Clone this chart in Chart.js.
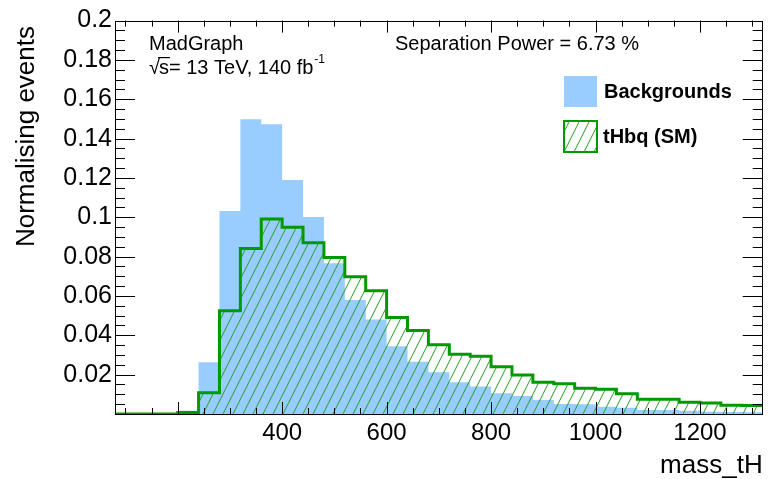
<!DOCTYPE html>
<html>
<head>
<meta charset="utf-8">
<script src="https://cdn.jsdelivr.net/npm/chart.js@4/dist/chart.umd.min.js"></script>
<style>
  html, body { margin: 0; padding: 0; background: #ffffff; }
  #wrap { width: 769px; height: 479px; position: relative; }
</style>
</head>
<body>
<div id="wrap"><canvas id="c" width="769" height="479"></canvas></div>
<script>
// Histogram bin edges in mass_tH (GeV), 40 GeV wide bins
const binEdges = [80, 120, 160, 200, 240, 280, 320, 360, 400, 440, 480, 520, 560, 600, 640, 680,
                  720, 760, 800, 840, 880, 920, 960, 1000, 1040, 1080, 1120, 1160, 1200, 1240, 1280, 1320];

// Normalised bin contents
const backgrounds = [0, 0, 0, 0.0017, 0.0263, 0.1032, 0.1498, 0.1473, 0.1190, 0.1002, 0.0766, 0.0580,
                     0.0481, 0.0344, 0.0265, 0.0212, 0.0162, 0.0140, 0.0105, 0.0092, 0.0071, 0.0051,
                     0.0049, 0.0037, 0.0032, 0.0020, 0.0020, 0.0017, 0.0012, 0.0010, 0.0009];
const signal = [0, 0, 0, 0.0007, 0.0108, 0.0525, 0.0842, 0.0991, 0.0949, 0.0871, 0.0795, 0.0698,
                0.0627, 0.0490, 0.0425, 0.0352, 0.0304, 0.0294, 0.0240, 0.0198, 0.0161, 0.0154,
                0.0131, 0.0126, 0.0103, 0.0075, 0.0075, 0.0060, 0.0056, 0.0044, 0.0043];

// Axis tick labels
const xTickLabels = [400, 600, 800, 1000, 1200];
const yTickLabels = [0.02, 0.04, 0.06, 0.08, 0.1, 0.12, 0.14, 0.16, 0.18, 0.2];

// Legend entries and annotation text
const seriesNames = ['Backgrounds', 'tHbq (SM)'];
const xTitle = 'mass_tH';
const yTitle = 'Normalising events';
const separationText = 'Separation Power = 6.73 %';

const FONT = '"Liberation Sans", Arial, Helvetica, sans-serif';
const BLUE = '#99ccff';
const GREEN = '#009a00';
const HATCH_GREEN = '#22a022';

// Turn bin contents into step points: one point per left edge plus the final right edge
function toSteps(values) {
  const pts = values.map((v, i) => ({ x: binEdges[i], y: v }));
  pts.push({ x: binEdges[values.length], y: values[values.length - 1] });
  return pts;
}

const canvas = document.getElementById('c');
const ctx0 = canvas.getContext('2d');

// Diagonal "/" hatch used for the signal histogram
function makeHatch() {
  const W = 10, H = 20;
  const tile = document.createElement('canvas');
  tile.width = W; tile.height = H;
  const g = tile.getContext('2d');
  g.strokeStyle = HATCH_GREEN;
  g.lineWidth = 1;
  for (let k = -1; k <= 1; k++) {
    g.beginPath();
    g.moveTo(k * W, H);
    g.lineTo(k * W + W, 0);
    g.stroke();
  }
  return ctx0.createPattern(tile, 'repeat');
}
const hatch = makeHatch();

// Frame, inward ticks on all four sides, titles, labels and legend
const rootStyle = {
  id: 'rootStyle',
  afterDatasetsDraw(chart) {
    const { ctx, chartArea: a, scales: { x, y } } = chart;
    ctx.save();
    ctx.strokeStyle = '#000';
    ctx.lineWidth = 1;
    ctx.beginPath();
    // x ticks every 50, major every 200
    for (let v = 100; v <= 1300; v += 50) {
      const px = Math.round(x.getPixelForValue(v)) + 0.5;
      const len = (v % 200 === 0) ? 12 : 6;
      ctx.moveTo(px, a.bottom); ctx.lineTo(px, a.bottom - len);
      ctx.moveTo(px, a.top); ctx.lineTo(px, a.top + len);
    }
    // y ticks every 0.005, major every 0.02
    for (let k = 0; k <= 40; k++) {
      const py = Math.round(y.getPixelForValue(k * 0.005)) + 0.5;
      const len = (k % 4 === 0) ? 20 : 10;
      ctx.moveTo(a.left, py); ctx.lineTo(a.left + len, py);
      ctx.moveTo(a.right, py); ctx.lineTo(a.right - len, py);
    }
    ctx.stroke();
    ctx.strokeRect(Math.round(a.left) + 0.5, Math.round(a.top) + 0.5,
                   Math.round(a.right - a.left) - 1, Math.round(a.bottom - a.top));
    ctx.restore();
  },
  afterDraw(chart) {
    const { ctx, chartArea: a } = chart;
    ctx.save();
    ctx.fillStyle = '#000';

    // axis titles
    ctx.font = '26px ' + FONT;
    ctx.textAlign = 'right';
    ctx.textBaseline = 'alphabetic';
    ctx.fillText(xTitle, a.right, 473);
    ctx.save();
    ctx.translate(34, 26);
    ctx.rotate(-Math.PI / 2);
    ctx.fillText(yTitle, 0, 0);
    ctx.restore();

    // generator and beam labels
    ctx.textAlign = 'left';
    ctx.font = '20px ' + FONT;
    ctx.fillText('MadGraph', 149, 50);
    ctx.fillText(separationText, 395, 50);
    // sqrt(s) line: radical sign with a bar over the s, then the luminosity with superscript
    let xp = 149;
    const base = 74;
    ctx.fillText('\u221A', xp, base);
    const rw = ctx.measureText('\u221A').width;
    const sw = ctx.measureText('s').width;
    ctx.fillText('s', xp + rw - 1, base);
    ctx.fillRect(xp + rw - 2, base - 17, sw + 2, 1.2);
    xp += rw - 1 + sw;
    ctx.fillText('= 13 TeV, 140 fb', xp, base);
    xp += ctx.measureText('= 13 TeV, 140 fb').width;
    ctx.font = '12px ' + FONT;
    ctx.fillText('-1', xp + 1, base - 11);

    // legend
    ctx.fillStyle = BLUE;
    ctx.fillRect(564, 76, 33, 31);
    ctx.fillStyle = hatch;
    ctx.fillRect(564, 121, 33, 31);
    ctx.strokeStyle = GREEN;
    ctx.lineWidth = 2;
    ctx.strokeRect(564, 121, 33, 31);
    ctx.fillStyle = '#000';
    ctx.font = 'bold 20px ' + FONT;
    ctx.textBaseline = 'middle';
    ctx.fillText(seriesNames[0], 604, 92);
    ctx.fillText(seriesNames[1], 603, 137);
    ctx.restore();
  }
};

new Chart(canvas, {
  type: 'line',
  data: {
    datasets: [
      {
        label: seriesNames[1],
        data: toSteps(signal),
        stepped: 'before',
        borderColor: GREEN,
        borderWidth: 3,
        borderJoinStyle: 'miter',
        backgroundColor: hatch,
        fill: 'origin',
        pointRadius: 0,
        order: 1
      },
      {
        label: seriesNames[0],
        data: toSteps(backgrounds),
        stepped: 'before',
        borderColor: 'rgba(0,0,0,0)',
        borderWidth: 0,
        backgroundColor: BLUE,
        fill: 'origin',
        pointRadius: 0,
        order: 2
      }
    ]
  },
  options: {
    responsive: false,
    animation: false,
    events: [],
    layout: { padding: { top: 20.6, right: 6.3, left: 0, bottom: 0 } },
    plugins: { legend: { display: false }, tooltip: { enabled: false } },
    scales: {
      x: {
        type: 'linear',
        min: 80,
        max: 1320,
        afterFit(s) { s.height = 65; },
        afterBuildTicks(s) { s.ticks = xTickLabels.map(v => ({ value: v })); },
        grid: { display: false, drawTicks: false },
        border: { display: false },
        ticks: {
          autoSkip: false, maxRotation: 0, padding: 5, color: '#000',
          font: { family: FONT, size: 24 },
          callback: v => String(v)
        }
      },
      y: {
        type: 'linear',
        min: 0,
        max: 0.2,
        afterFit(s) { s.width = 115; },
        afterBuildTicks(s) { s.ticks = yTickLabels.map(v => ({ value: v })); },
        grid: { display: false, drawTicks: false },
        border: { display: false },
        ticks: {
          padding: 3, color: '#000',
          font: { family: FONT, size: 25 },
          callback: v => String(+v.toFixed(2))
        }
      }
    }
  },
  plugins: [rootStyle]
});
</script>
</body>
</html>
